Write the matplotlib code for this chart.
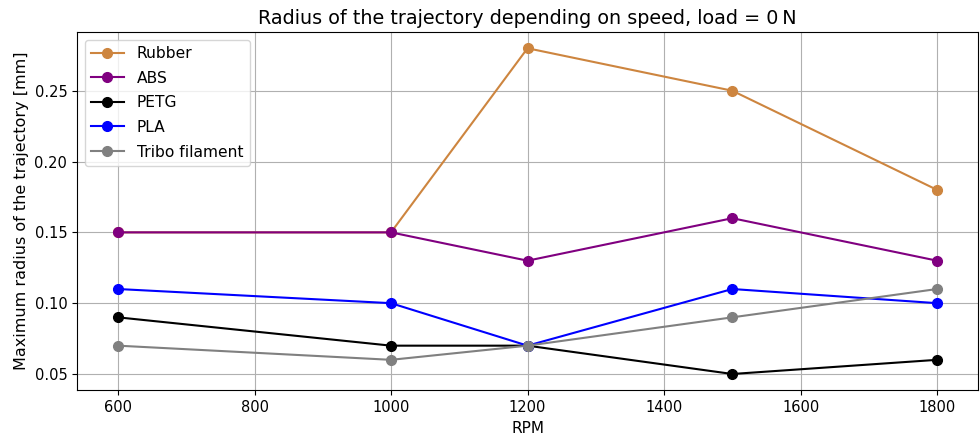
import matplotlib.pyplot as plt

# RPM values and maximum trajectory radius per material
rpm = [600, 1000, 1200, 1500, 1800]
rubber = [0.15, 0.15, 0.28, 0.25, 0.18]
abs_vals = [0.15, 0.15, 0.13, 0.16, 0.13]
petg = [0.09, 0.07, 0.07, 0.05, 0.06]
pla = [0.11, 0.10, 0.07, 0.11, 0.10]
tribo = [0.07, 0.06, 0.07, 0.09, 0.11]

series = [
    ('Rubber', rubber, 'peru'),
    ('ABS', abs_vals, 'purple'),
    ('PETG', petg, 'black'),
    ('PLA', pla, 'blue'),
    ('Tribo filament', tribo, 'gray'),
]

fig, ax = plt.subplots(figsize=(9.8, 4.44), dpi=100)
fig.subplots_adjust(left=0.0786, right=0.998, top=0.928, bottom=0.121)

for name, vals, color in series:
    ax.plot(rpm, vals, marker='o', markersize=7, color=color, label=name)

ax.set_title('Radius of the trajectory depending on speed, load = 0\u2009N', fontsize=13.8)
ax.set_xlabel('RPM', fontsize=11)
ax.set_ylabel('Maximum radius of the trajectory [mm]', fontsize=11.5)
ax.tick_params(labelsize=10.5)
ax.grid(True)
ax.legend(loc='upper left', fontsize=11.2, labelspacing=0.62,
          handlelength=2.1, handletextpad=0.85)

plt.savefig('out.png')
